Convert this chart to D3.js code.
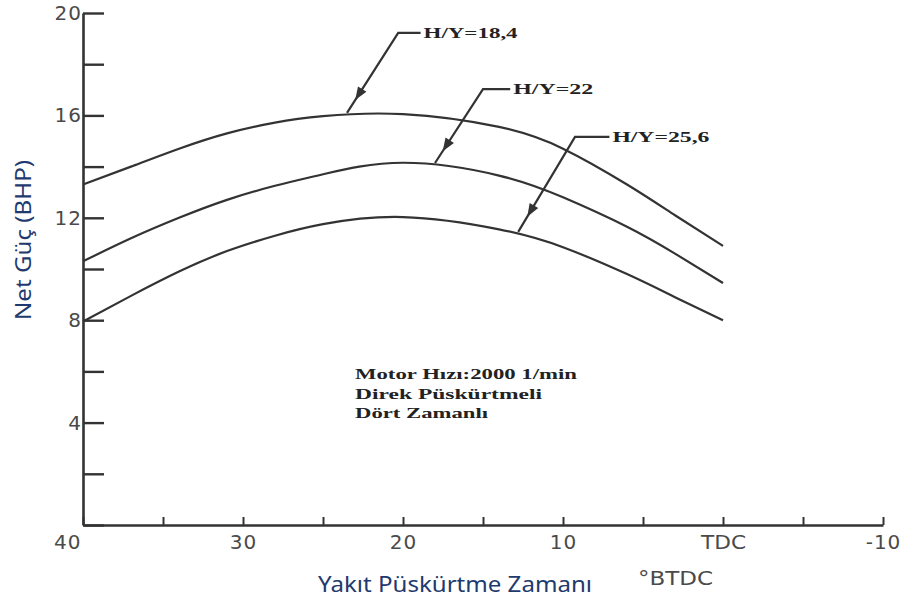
<!DOCTYPE html>
<html>
<head>
<meta charset="utf-8">
<script src="https://cdn.jsdelivr.net/npm/d3@7"></script>
<style>
body{margin:0;background:#fff;}
svg{display:block;}
</style>
</head>
<body>
<div id="chart"></div>
<script>
// injection timing (deg BTDC) and net power (BHP)
var timing = [40, 37, 34, 31, 28, 25, 20, 14, 10, 6, 3, 0];
var hy184 = [13.3, 14.0, 14.7, 15.3, 15.72, 15.97, 16.05, 15.55, 14.7, 13.3, 12.1, 10.9];
var hy22 = [10.3, 11.2, 12.0, 12.7, 13.25, 13.7, 14.15, 13.65, 12.8, 11.65, 10.6, 9.45];
var hy256 = [7.95, 8.95, 9.9, 10.7, 11.3, 11.75, 12.03, 11.55, 10.85, 9.8, 8.9, 8.0];

var seriesNames = ["H/Y=18,4", "H/Y=22", "H/Y=25,6"];
var xTicks = [40, 35, 30, 25, 20, 15, 10, 5, 0, -5, -10];
var xTickLabels = {"40":"40", "30":"30", "20":"20", "10":"10", "0":"TDC", "-10":"-10"};
var yTicks = [0, 2, 4, 6, 8, 10, 12, 14, 16, 18, 20];
var yTickLabels = [20, 16, 12, 8, 4];
var noteLines = ["Motor Hızı:2000 1/min", "Direk Püskürtmeli", "Dört Zamanlı"];

var W = 912, H = 601;
var ink = "#333";

var svg = d3.select("#chart").append("svg").attr("width", W).attr("height", H);

var x = d3.scaleLinear().domain([40, -10]).range([83, 883]);
var y = d3.scaleLinear().domain([0, 20]).range([525, 13]);

// axes //////////////////////////////
var yAxis = d3.axisLeft(y)
    .tickValues(yTicks)
    .tickSizeInner(-21)
    .tickSizeOuter(0)
    .tickPadding(1)
    .tickFormat(function(d){ return yTickLabels.indexOf(d) > -1 ? d : ""; });

var gy = svg.append("g").attr("transform", "translate(" + x(40) + ",0)").call(yAxis);
gy.select(".domain").attr("stroke", ink).attr("stroke-width", 2.6);
gy.selectAll(".tick line").attr("stroke", ink).attr("stroke-width", 2.4);
gy.selectAll(".tick text")
    .attr("fill", "#4a4a4a")
    .style("font-family", "DejaVu Sans")
    .style("font-size", "20px")
    .style("letter-spacing", "1px");

var xAxis = d3.axisBottom(x)
    .tickValues(xTicks)
    .tickSizeInner(-8)
    .tickSizeOuter(0)
    .tickPadding(10)
    .tickFormat(function(d){ return xTickLabels[d] || ""; });

var gx = svg.append("g").attr("transform", "translate(0," + y(0) + ")").call(xAxis);
gx.select(".domain").attr("stroke", ink).attr("stroke-width", 2.6);
gx.selectAll(".tick line").attr("stroke", ink).attr("stroke-width", 2);
gx.selectAll(".tick text")
    .attr("fill", "#4a4a4a")
    .style("font-family", "DejaVu Sans")
    .style("font-size", "20px")
    .style("letter-spacing", "1px");
// the 40 label sits left of the corner
gx.selectAll(".tick").filter(function(d){ return d === 40; }).select("text")
    .attr("text-anchor", "end").attr("x", -2);
gx.selectAll(".tick").filter(function(d){ return d === 0; }).select("text")
    .style("letter-spacing", "0px")
    .attr("textLength", 45).attr("lengthAdjust", "spacingAndGlyphs");

// curves //////////////////////////////
var line = d3.line()
    .x(function(d){ return x(d[0]); })
    .y(function(d){ return y(d[1]); })
    .curve(d3.curveNatural);

[hy184, hy22, hy256].forEach(function(vals){
    svg.append("path")
        .datum(timing.map(function(t, i){ return [t, vals[i]]; }))
        .attr("fill", "none")
        .attr("stroke", ink)
        .attr("stroke-width", 2.2)
        .attr("d", line);
});

// callouts: tip on the curve, bend, end of the shelf, label (data units)
var callouts = [
    {name: seriesNames[0], tip: [23.5, 16.1], bend: [20.3, 19.22], shelf: 18.9, len: 94},
    {name: seriesNames[1], tip: [18.0, 14.14], bend: [15.0, 17.03], shelf: 13.3, len: 80},
    {name: seriesNames[2], tip: [12.8, 11.45], bend: [9.25, 15.16], shelf: 7.1, len: 97}
];

callouts.forEach(function(c){
    var tx = x(c.tip[0]), ty = y(c.tip[1]);
    var bx = x(c.bend[0]), by = y(c.bend[1]);
    var sx = x(c.shelf);
    svg.append("path")
        .attr("d", "M" + sx + "," + by + "L" + bx + "," + by + "L" + tx + "," + ty)
        .attr("fill", "none").attr("stroke", ink).attr("stroke-width", 2.2);
    // arrow head along the leader
    var ang = Math.atan2(ty - by, tx - bx);
    var px = bx + (tx - bx) * 0.84, py = by + (ty - by) * 0.84;
    var L = 13, Wd = 5;
    var p1 = [px - L * Math.cos(ang) - Wd * Math.sin(ang), py - L * Math.sin(ang) + Wd * Math.cos(ang)];
    var p2 = [px - L * Math.cos(ang) + Wd * Math.sin(ang), py - L * Math.sin(ang) - Wd * Math.cos(ang)];
    svg.append("path")
        .attr("d", "M" + px + "," + py + "L" + p1 + "L" + p2 + "Z")
        .attr("fill", ink);
    svg.append("text")
        .attr("x", sx + 3).attr("y", by + 5)
        .attr("textLength", c.len).attr("lengthAdjust", "spacingAndGlyphs")
        .style("font-family", "Liberation Serif").style("font-weight", "bold")
        .style("font-size", "15px").attr("fill", "#222")
        .text(c.name);
});

// note block
var noteLens = [222, 187, 133];
svg.append("g").selectAll("text").data(noteLines).enter().append("text")
    .attr("x", 355)
    .attr("y", function(d, i){ return 379 + i * 19.5; })
    .attr("textLength", function(d, i){ return noteLens[i]; })
    .attr("lengthAdjust", "spacingAndGlyphs")
    .style("font-family", "Liberation Serif").style("font-weight", "bold")
    .style("font-size", "15px").attr("fill", "#222")
    .text(function(d){ return d; });

// axis titles
svg.append("text")
    .attr("transform", "translate(31,240) rotate(-90)")
    .attr("text-anchor", "middle")
    .attr("textLength", 160).attr("lengthAdjust", "spacingAndGlyphs")
    .style("font-family", "Noto Sans").style("font-size", "21px")
    .attr("fill", "#1f3a6e")
    .text("Net Güç (BHP)");

svg.append("text")
    .attr("x", 455).attr("y", 592)
    .attr("text-anchor", "middle")
    .attr("textLength", 274).attr("lengthAdjust", "spacingAndGlyphs")
    .style("font-family", "Noto Sans").style("font-size", "21px")
    .attr("fill", "#1f3a6e")
    .text("Yakıt Püskürtme Zamanı");

svg.append("text")
    .attr("x", 638).attr("y", 585)
    .attr("textLength", 75).attr("lengthAdjust", "spacingAndGlyphs")
    .style("font-family", "DejaVu Sans").style("font-size", "19px")
    .attr("fill", "#4a4a4a")
    .text("°BTDC");
</script>
</body>
</html>
